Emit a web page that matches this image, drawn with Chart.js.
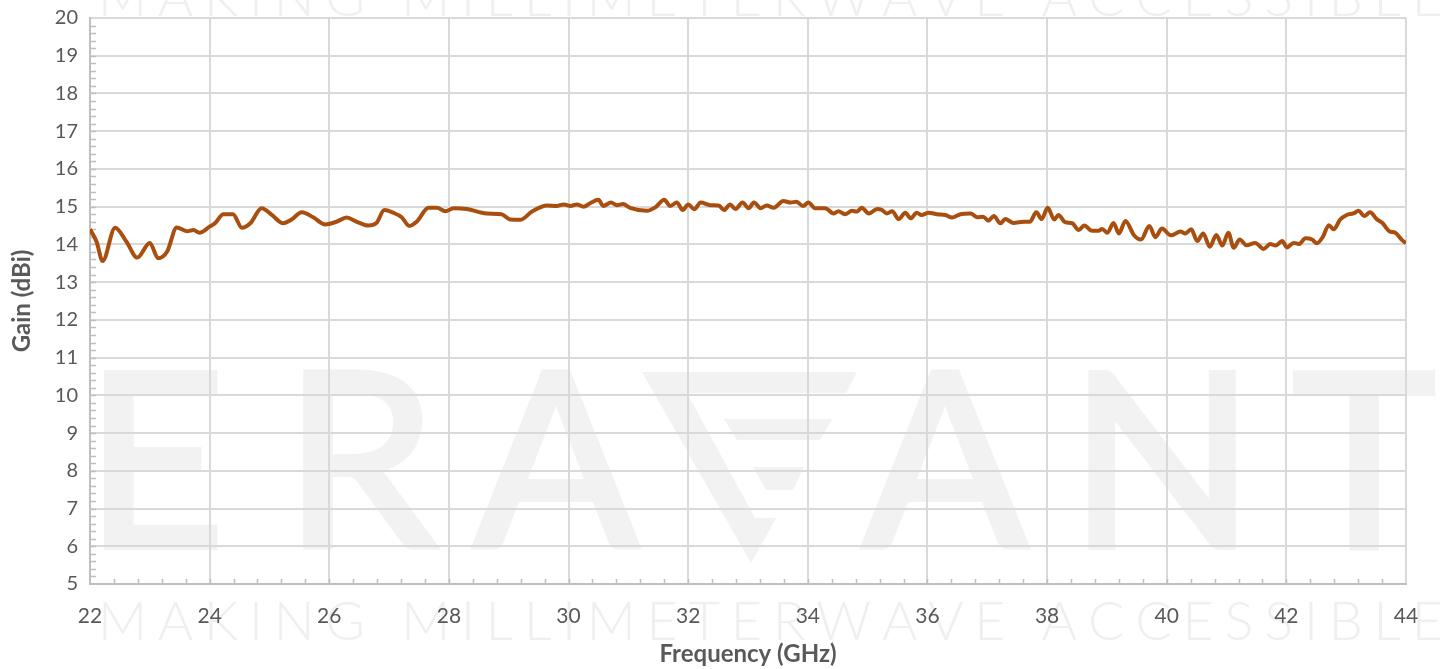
<!DOCTYPE html>
<html>
<head>
<meta charset="utf-8">
<script src="https://cdn.jsdelivr.net/npm/chart.js@4"></script>
<style>
  body { margin: 0; background: #fff; }
  #wrap { width: 1445px; height: 669px; position: relative; }
</style>
</head>
<body>
<div id="wrap"><canvas id="gainChart"></canvas></div>
<script>
// Frequency (GHz) and gain (dBi)
const freq = [
  22.00, 22.11, 22.21, 22.42, 22.61, 22.79, 23.00, 23.14, 23.29, 23.45,
  23.62, 23.73, 23.83, 24.00, 24.09, 24.23, 24.39, 24.54, 24.68, 24.87,
  25.04, 25.23, 25.37, 25.54, 25.73, 25.93, 26.12, 26.29, 26.46, 26.65,
  26.79, 26.92, 27.07, 27.21, 27.34, 27.46, 27.66, 27.80, 27.94, 28.08,
  28.30, 28.63, 28.88, 29.02, 29.19, 29.39, 29.64, 29.80, 29.92, 30.03,
  30.14, 30.25, 30.36, 30.50, 30.58, 30.71, 30.81, 30.91, 31.03, 31.31,
  31.45, 31.60, 31.70, 31.81, 31.91, 32.00, 32.10, 32.21, 32.37, 32.51,
  32.60, 32.70, 32.79, 32.91, 33.01, 33.10, 33.21, 33.31, 33.43, 33.59,
  33.71, 33.81, 33.92, 34.01, 34.12, 34.29, 34.43, 34.51, 34.62, 34.74,
  34.82, 34.90, 35.02, 35.16, 35.24, 35.32, 35.41, 35.52, 35.63, 35.72,
  35.82, 35.90, 36.02, 36.16, 36.30, 36.41, 36.55, 36.72, 36.83, 36.93,
  37.02, 37.11, 37.22, 37.30, 37.44, 37.61, 37.71, 37.82, 37.91, 38.01,
  38.12, 38.19, 38.30, 38.42, 38.53, 38.62, 38.75, 38.86, 38.92, 39.01,
  39.11, 39.20, 39.31, 39.45, 39.57, 39.71, 39.81, 39.92, 40.07, 40.23,
  40.31, 40.41, 40.51, 40.61, 40.72, 40.83, 40.93, 41.03, 41.12, 41.22,
  41.33, 41.48, 41.62, 41.73, 41.82, 41.93, 42.01, 42.12, 42.21, 42.32,
  42.43, 42.51, 42.61, 42.71, 42.79, 42.90, 43.01, 43.12, 43.21, 43.30,
  43.40, 43.51, 43.61, 43.72, 43.82, 43.93, 44.00
];
const gain = [
  14.40, 14.07, 13.56, 14.44, 14.07, 13.65, 14.04, 13.63, 13.81, 14.45,
  14.35, 14.38, 14.31, 14.47, 14.56, 14.80, 14.80, 14.44, 14.56, 14.96,
  14.78, 14.56, 14.66, 14.85, 14.72, 14.53, 14.60, 14.71, 14.60, 14.50,
  14.57, 14.91, 14.84, 14.72, 14.49, 14.60, 14.97, 14.97, 14.88, 14.96,
  14.94, 14.82, 14.80, 14.66, 14.65, 14.87, 15.03, 15.02, 15.06, 15.02,
  15.06, 15.00, 15.09, 15.18, 15.02, 15.11, 15.04, 15.07, 14.97, 14.89,
  14.98, 15.18, 15.02, 15.11, 14.91, 15.06, 14.93, 15.11, 15.04, 15.03,
  14.91, 15.06, 14.94, 15.11, 14.96, 15.11, 14.96, 15.03, 14.97, 15.15,
  15.11, 15.13, 15.02, 15.11, 14.96, 14.96, 14.82, 14.88, 14.80, 14.89,
  14.87, 14.97, 14.82, 14.94, 14.91, 14.82, 14.88, 14.67, 14.84, 14.69,
  14.84, 14.78, 14.84, 14.80, 14.78, 14.71, 14.80, 14.82, 14.72, 14.73,
  14.63, 14.75, 14.56, 14.67, 14.57, 14.60, 14.60, 14.85, 14.67, 14.97,
  14.66, 14.78, 14.59, 14.56, 14.38, 14.50, 14.36, 14.36, 14.41, 14.31,
  14.57, 14.29, 14.62, 14.25, 14.13, 14.49, 14.19, 14.42, 14.24, 14.34,
  14.29, 14.40, 14.09, 14.29, 13.94, 14.25, 13.97, 14.31, 13.91, 14.13,
  13.98, 14.04, 13.88, 14.01, 13.97, 14.09, 13.92, 14.04, 14.01, 14.16,
  14.13, 14.03, 14.20, 14.51, 14.40, 14.66, 14.78, 14.82, 14.89, 14.75,
  14.85, 14.67, 14.56, 14.35, 14.31, 14.12, 14.03
];

// axis ranges / tick steps
const xRange = [22, 44];
const yRange = [5, 20];
const xStep = 2, yStep = 1;
const xMinorStep = 0.4, yMinorStep = 0.2;

const textGrey = '#595959';
const lineColor = '#a84f10';

// faint company watermark behind the plot
const watermark = {
  id: 'watermark',
  beforeDraw(chart) {
    const ctx = chart.ctx;
    ctx.save();
    ctx.fillStyle = '#f2f2f2';
    ctx.strokeStyle = '#f2f2f2';
    ctx.lineWidth = 6;
    ctx.lineJoin = 'miter';
    ctx.font = '243px Lato';
    ctx.textAlign = 'center';
    ctx.textBaseline = 'alphabetic';
    [['E', 155], ['R', 360], ['A', 556], ['A', 945], ['N', 1162], ['T', 1364]]
      .forEach(([ch, cx]) => {
        ctx.fillText(ch, cx, 547);
        ctx.strokeText(ch, cx, 547);
      });

    // stylised V of the logo
    const polys = [
      [[642, 372], [857, 372], [846, 393], [687, 393], [755, 518], [776, 518], [751, 563]],
      [[724, 419], [832, 419], [820, 440], [737, 440]],
      [[753, 467], [804, 467], [793, 490], [766, 490]]
    ];
    polys.forEach(p => {
      ctx.beginPath();
      p.forEach(([x, y], i) => i ? ctx.lineTo(x, y) : ctx.moveTo(x, y));
      ctx.closePath();
      ctx.fill();
    });

    // tagline, top (cut off) and bottom
    const tag = 'MAKING MILLIMETERWAVE ACCESSIBLE';
    ctx.fillStyle = '#efefef';
    ctx.font = '300 54px Lato';
    ctx.textAlign = 'left';
    const widths = [...tag].map(c => ctx.measureText(c).width);
    const total = widths.reduce((a, b) => a + b, 0);
    const gap = (1345 - total) / (tag.length - 1);
    [16, 640].forEach(base => {
      let x = 98;
      [...tag].forEach((c, i) => {
        ctx.fillText(c, x, base);
        x += widths[i] + gap;
      });
    });
    ctx.restore();
  }
};

// small inside tick marks along both axes
const minorTicks = {
  id: 'minorTicks',
  beforeDatasetsDraw(chart) {
    const { ctx, chartArea, scales } = chart;
    ctx.save();
    ctx.strokeStyle = '#bfbfbf';
    ctx.lineWidth = 1.5;
    ctx.beginPath();
    for (let v = xRange[0] + xMinorStep; v < xRange[1] - 0.01; v += xMinorStep) {
      const px = Math.round(scales.x.getPixelForValue(v)) + 0.5;
      ctx.moveTo(px, chartArea.bottom);
      ctx.lineTo(px, chartArea.bottom - 5);
    }
    for (let v = yRange[0] + yMinorStep; v < yRange[1] - 0.01; v += yMinorStep) {
      const py = Math.round(scales.y.getPixelForValue(v)) + 0.5;
      ctx.moveTo(chartArea.left, py);
      ctx.lineTo(chartArea.left + 6, py);
    }
    ctx.stroke();
    ctx.restore();
  }
};

const points = freq.map((f, i) => ({ x: f, y: gain[i] }));

new Chart(document.getElementById('gainChart'), {
  type: 'line',
  data: {
    datasets: [{
      label: 'Gain',
      data: points,
      borderColor: lineColor,
      borderWidth: 4,
      pointRadius: 0,
      cubicInterpolationMode: 'monotone',
      fill: false
    }]
  },
  options: {
    responsive: true,
    maintainAspectRatio: false,
    animation: false,
    layout: { padding: { top: 18, right: 39, bottom: 0, left: 0 } },
    plugins: {
      legend: { display: false },
      tooltip: { enabled: false }
    },
    scales: {
      x: {
        type: 'linear',
        min: xRange[0],
        max: xRange[1],
        afterFit: s => { s.height = 85; },
        ticks: {
          stepSize: xStep,
          color: textGrey,
          font: { family: 'Lato', size: 21 },
          padding: 20,
          maxRotation: 0
        },
        grid: { color: '#d9d9d9', lineWidth: 2, drawTicks: false },
        border: { color: '#bfbfbf', width: 2 },
        title: {
          display: true,
          text: 'Frequency (GHz)',
          color: textGrey,
          font: { family: 'Lato', size: 24, weight: 'bold' },
          padding: { top: 0, bottom: 0 }
        }
      },
      y: {
        min: yRange[0],
        max: yRange[1],
        afterFit: s => {
          s.width = 90;
          s.paddingTop = 0;
          s.paddingBottom = 0;
        },
        ticks: {
          stepSize: yStep,
          color: textGrey,
          font: { family: 'Lato', size: 20 },
          padding: 12
        },
        grid: { color: '#d9d9d9', lineWidth: 2, drawTicks: false },
        border: { color: '#bfbfbf', width: 2 },
        title: {
          display: true,
          text: 'Gain (dBi)',
          color: textGrey,
          font: { family: 'Lato', size: 24, weight: 'bold' },
          padding: { top: 8, bottom: 0 }
        }
      }
    }
  },
  plugins: [watermark, minorTicks]
});
</script>
</body>
</html>
